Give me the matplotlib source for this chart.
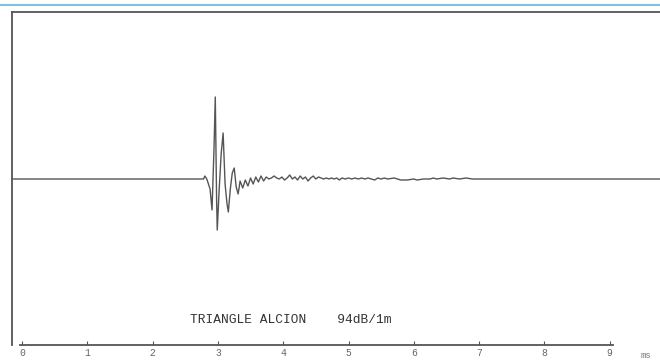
import matplotlib
matplotlib.use("Agg")
import matplotlib.pyplot as plt
from matplotlib.lines import Line2D

# impulse response trace, time in ms, amplitude in arbitrary units
t_ms = [-0.16, 2.78, 2.80, 2.83, 2.88, 2.91, 2.94, 2.96, 2.98, 2.99, 3.02, 3.05,
        3.08, 3.11, 3.14, 3.16, 3.19, 3.22, 3.25, 3.28, 3.31,
        3.34, 3.38, 3.42, 3.46, 3.50, 3.54, 3.58, 3.62, 3.66, 3.70, 3.74, 3.78,
        3.82, 3.86, 3.90, 3.94, 3.98, 4.02, 4.06, 4.10, 4.14, 4.18, 4.22, 4.26,
        4.30, 4.34, 4.38, 4.42, 4.46, 4.50, 4.54, 4.58, 4.62, 4.66, 4.70, 4.74,
        4.78, 4.82, 4.86, 4.90, 4.95, 5.00, 5.05, 5.10, 5.15, 5.20, 5.25, 5.30,
        5.35, 5.40, 5.45, 5.50, 5.55, 5.60, 5.70, 5.80, 5.90, 6.00, 6.05, 6.15,
        6.25, 6.30, 6.35, 6.45, 6.55, 6.60, 6.70, 6.80, 6.90, 9.80]
amp = [0, 0, 3, 0, -10, -31, 30, 82, -20, -51, -10, 25,
       46, -5, -25, -33, -10, 6, 11, -8, -15,
       -2, -9, -1, -7, 1, -5, 2, -3, 3, -2, 2, 0,
       1, 3, 1, 0, 2, -1, 1, 4, 0, 2, -1, 3,
       0, 2, -2, 1, 3, 0, 2, 1, 0, 1, 0, 1,
       0, 1, -1, 1, 0, 1, 0, 1, 0, 1, 0, 1,
       0, -1, 1, 0, 1, 0, 1, -1, -1, 0, -1, 0,
       0, 1, 0, 1, 0, 1, 0, 1, 0, 0]

ticks = [0, 1, 2, 3, 4, 5, 6, 7, 8, 9]
label = "TRIANGLE ALCION    94dB/1m"

ink = "#555555"
fig = plt.figure(figsize=(6.6, 3.6), dpi=100)
ax = fig.add_axes([12 / 660, 15 / 360, 648 / 660, 333 / 360])

ax.plot(t_ms, amp, color=ink, linewidth=1.0)

ax.set_xlim(-0.153, 9.77)
ax.set_ylim(-166, 167)
ax.spines["right"].set_visible(False)
for s in ["top", "left", "bottom"]:
    ax.spines[s].set_color(ink)
    ax.spines[s].set_linewidth(1.3)
ax.spines["bottom"].set_bounds(-0.03, 9.05)
ax.set_yticks([])
ax.set_xticks(ticks)
ax.set_xticklabels([str(v) for v in ticks], family="Liberation Mono", fontsize=7, color="#666666")
ax.tick_params(axis="x", direction="in", length=3, width=0.8, color=ink, pad=2)

ax.text(9.55, -176, "ms", family="Liberation Mono", fontsize=6.5, color="#777777",
        ha="center", va="center", clip_on=False)
ax.text(4.11, -141, label, family="Liberation Mono", fontsize=9.3, color="#333333",
        ha="center", va="center")

# blue page rule at the very top of the scan
fig.add_artist(Line2D([0, 1], [1 - 5 / 360, 1 - 5 / 360], color="#7cc3dc", linewidth=1.5))

fig.savefig("out.png", dpi=100, facecolor="white")
